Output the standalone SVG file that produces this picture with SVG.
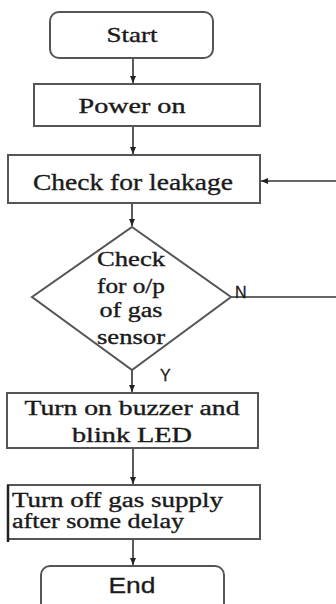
<svg xmlns="http://www.w3.org/2000/svg" width="336" height="604" viewBox="0 0 336 604">
<defs>
<marker id="ah" markerWidth="8" markerHeight="8" refX="7" refY="4" orient="auto" markerUnits="userSpaceOnUse">
<path d="M0,1 L7,4 L0,7 Z" fill="#222"/>
</marker>
<style>
.box{fill:#fff;stroke:#555;stroke-width:2}
.ln{fill:none;stroke:#333;stroke-width:1.6}
.t{font-family:"Liberation Serif","Times New Roman",serif;fill:#1a1a1a;stroke:#1a1a1a;stroke-width:0.35;text-anchor:middle}
.s{font-family:"Liberation Sans",Arial,sans-serif;fill:#1a1a1a;stroke:#1a1a1a;stroke-width:0.3}
</style>
</defs>
<rect width="336" height="604" fill="#fff"/>
<g id="connectors">
<line class="ln" x1="133" y1="58" x2="133" y2="83" marker-end="url(#ah)"/>
<line class="ln" x1="133" y1="126" x2="133" y2="154" marker-end="url(#ah)"/>
<line class="ln" x1="132" y1="203" x2="132" y2="226" marker-end="url(#ah)"/>
<line class="ln" x1="336" y1="181" x2="261" y2="181" marker-end="url(#ah)"/>
<line class="ln" x1="231" y1="297" x2="336" y2="297"/>
<line class="ln" x1="132" y1="370" x2="132" y2="392" marker-end="url(#ah)"/>
<line class="ln" x1="133" y1="448" x2="133" y2="484" marker-end="url(#ah)"/>
<line class="ln" x1="133" y1="539" x2="133" y2="565" marker-end="url(#ah)"/>
<text class="s" x="235" y="298" font-size="16">N</text>
<text class="s" x="160" y="381" font-size="16">Y</text>
</g>
<g id="start">
<rect class="box" x="50" y="12" width="163" height="46" rx="9"/>
<text class="t" x="132" y="42" font-size="21" textLength="51" lengthAdjust="spacingAndGlyphs">Start</text>
</g>
<g id="power">
<rect class="box" x="34" y="84" width="226" height="42"/>
<text class="t" x="132" y="113" font-size="20" textLength="107" lengthAdjust="spacingAndGlyphs">Power on</text>
</g>
<g id="leak">
<rect class="box" x="8" y="155" width="252" height="48"/>
<text class="t" x="133" y="190" font-size="24" textLength="200" lengthAdjust="spacingAndGlyphs">Check for leakage</text>
</g>
<g id="decision">
<polygon class="box" points="132,227 231,297 132,370 32,297"/>
<text class="t" x="131" y="266" font-size="20" textLength="68" lengthAdjust="spacingAndGlyphs">Check</text>
<text class="t" x="131" y="293" font-size="20" textLength="68" lengthAdjust="spacingAndGlyphs">for o/p</text>
<text class="t" x="131" y="317" font-size="20" textLength="63" lengthAdjust="spacingAndGlyphs">of gas</text>
<text class="t" x="131" y="344" font-size="20" textLength="68" lengthAdjust="spacingAndGlyphs">sensor</text>
</g>
<g id="buzzer">
<rect class="box" x="7" y="393" width="251" height="55"/>
<text class="t" x="132" y="415" font-size="20" textLength="215" lengthAdjust="spacingAndGlyphs">Turn on buzzer and</text>
<text class="t" x="132" y="442" font-size="20" textLength="120" lengthAdjust="spacingAndGlyphs">blink LED</text>
</g>
<g id="gasoff">
<rect class="box" x="8" y="485" width="252" height="54"/>
<line x1="8" y1="485" x2="8" y2="542" stroke="#222" stroke-width="2.5"/>
<text class="t" x="12" y="507" font-size="20" style="text-anchor:start" textLength="211" lengthAdjust="spacingAndGlyphs">Turn off gas supply</text>
<text class="t" x="12" y="528" font-size="20" style="text-anchor:start" textLength="172" lengthAdjust="spacingAndGlyphs">after some delay</text>
</g>
<g id="end">
<rect class="box" x="41" y="566" width="183" height="50" rx="9"/>
<text class="s" x="132" y="593" font-size="22" text-anchor="middle" textLength="47" lengthAdjust="spacingAndGlyphs">End</text>
</g>
</svg>
